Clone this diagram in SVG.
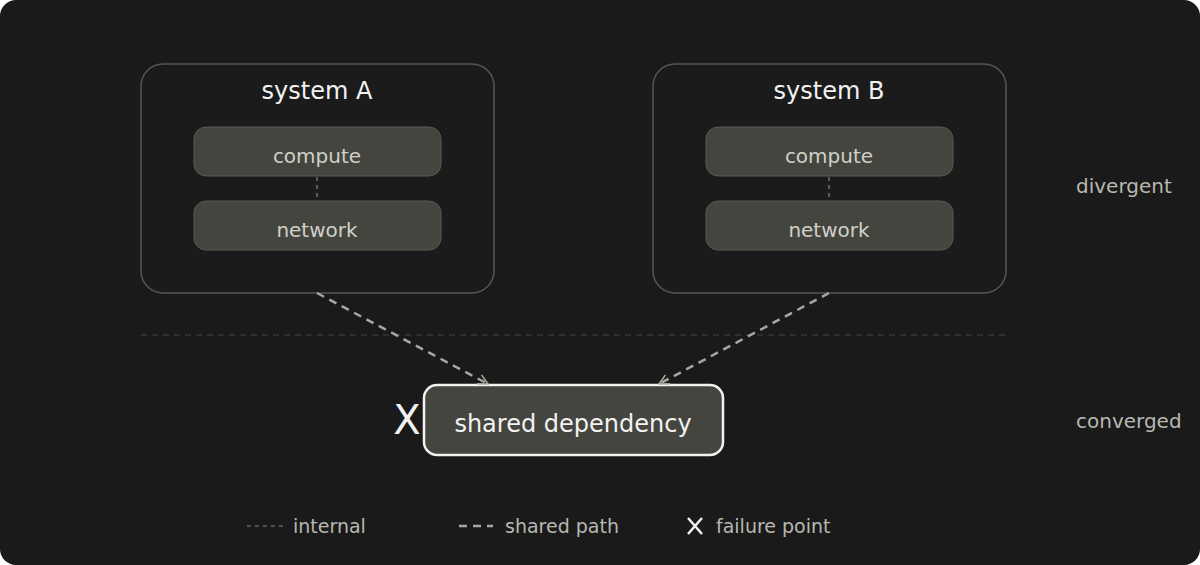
<svg xmlns="http://www.w3.org/2000/svg" width="1200" height="565" viewBox="0 0 1200 565">
<defs>
<style>
text{font-family:"DejaVu Sans",sans-serif}
.sys{fill:#1b1b1b;stroke:#555;stroke-width:1.5}
.in{fill:#45453f;stroke:#5a5a54;stroke-width:1}
.t1{fill:#f2f2f2;font-size:24px;text-anchor:middle}
.t2{fill:#d0d0c8;font-size:20px;text-anchor:middle}
.side{fill:#b8b8b0;font-size:20px}
.leg{fill:#b8b8b0;font-size:19px}
.shared{stroke:#a8a8a0;stroke-width:2.5;stroke-dasharray:8 6;fill:none}
.internal{stroke:#888;stroke-width:1.2;stroke-dasharray:4 4;fill:none}
</style>
<marker id="ah" viewBox="0 0 12 12" refX="11" refY="6" markerWidth="12" markerHeight="12" markerUnits="userSpaceOnUse" orient="auto">
<path d="M1,1 L11,6 L1,11" fill="none" stroke="#a8a8a0" stroke-width="1.6"/>
</marker>
</defs>
<rect width="1200" height="565" rx="16" fill="#1a1a1a"/>
<g id="systemA">
<rect class="sys" x="141" y="64" width="353" height="229" rx="22"/>
<text class="t1" x="317" y="99">system A</text>
</g>
<g id="computeA"><rect class="in" x="194" y="127" width="247" height="49" rx="12"/><text class="t2" x="317" y="163">compute</text></g>
<g id="networkA"><rect class="in" x="194" y="201" width="247" height="49" rx="12"/><text class="t2" x="317" y="237">network</text></g>
<g id="systemB">
<rect class="sys" x="653" y="64" width="353" height="229" rx="22"/>
<text class="t1" x="829" y="99">system B</text>
</g>
<g id="computeB"><rect class="in" x="706" y="127" width="247" height="49" rx="12"/><text class="t2" x="829" y="163">compute</text></g>
<g id="networkB"><rect class="in" x="706" y="201" width="247" height="49" rx="12"/><text class="t2" x="829" y="237">network</text></g>
<g id="shared">
<rect x="424" y="385" width="299" height="70" rx="13" fill="#45453f" stroke="#f2f2f2" stroke-width="2.5"/>
<text class="t1" x="573" y="432" font-size="25">shared dependency</text>
<text x="407" y="434" fill="#f2f2f2" font-size="40" text-anchor="middle">X</text>
</g>
<g id="connectors">
<line class="internal" x1="317" y1="177" x2="317" y2="201"/>
<line class="internal" x1="829" y1="177" x2="829" y2="201"/>
<line x1="141" y1="335" x2="1006" y2="335" stroke="#444" stroke-width="1.2" stroke-dasharray="6 5"/>
<line class="shared" x1="317" y1="293" x2="488" y2="384" marker-end="url(#ah)"/>
<line class="shared" x1="829" y1="293" x2="659" y2="384" marker-end="url(#ah)"/>
</g>
<text class="side" x="1076" y="193">divergent</text>
<text class="side" x="1076" y="428">converged</text>
<g id="legend">
<line class="internal" x1="247" y1="526" x2="283" y2="526" stroke="#777"/>
<text class="leg" x="293" y="533">internal</text>
<line class="shared" x1="459" y1="526" x2="493" y2="526"/>
<text class="leg" x="505" y="533">shared path</text>
<path d="M688,518 L702,534 M702,518 L688,534" stroke="#f2f2f2" stroke-width="2.5"/>
<text class="leg" x="716" y="533">failure point</text>
</g>
</svg>
